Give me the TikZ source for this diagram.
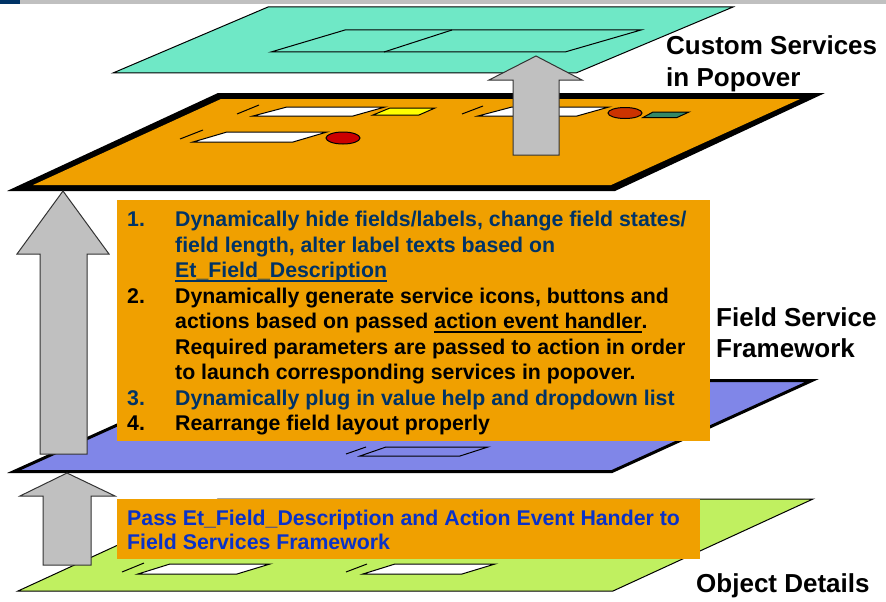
\documentclass[tikz,border=0pt]{standalone}
\usepackage{fontspec}
\setmainfont{Liberation Sans}
\definecolor{barg}{RGB}{192,192,192}
\definecolor{navy}{RGB}{0,51,102}
\definecolor{tealc}{RGB}{111,232,198}
\definecolor{orangec}{RGB}{240,160,0}
\definecolor{bluec}{RGB}{128,134,232}
\definecolor{greenc}{RGB}{192,240,96}
\definecolor{arrowg}{RGB}{192,192,192}
\definecolor{redc}{RGB}{204,0,0}
\definecolor{redoc}{RGB}{204,51,0}
\definecolor{smallg}{RGB}{51,136,102}
\definecolor{yelc}{RGB}{255,255,0}
\definecolor{tblue}{RGB}{0,51,102}
\definecolor{pblue}{RGB}{10,50,200}
\newcommand\myul[1]{\setbox0=\hbox{#1}\rlap{\rule[-4pt]{\wd0}{2pt}}\box0}
\begin{document}
\begin{tikzpicture}[x=1pt,y=-1pt,line join=miter,
  thinline/.style={draw=black,line width=1},
  blockarrow/.style={draw=black!80,line width=1,fill=arrowg},
  textbox/.style={fill=orangec,draw=none,anchor=north west,inner sep=0pt},
  itemtxt/.style={anchor=base west,inner sep=0pt,font=\fontsize{21.3}{25}\selectfont\bfseries},
  labeltxt/.style={anchor=base west,inner sep=0pt,font=\fontsize{26}{31}\selectfont\bfseries},
  whitefield/.style={draw=black,line width=1,fill=white}]
\useasboundingbox (0,0) rectangle (886,602);
% top bar
\fill[barg] (0,0) rectangle (886,4.5);
\fill[navy] (0,0) rectangle (20,4.5);

% teal plane (Custom Services in Popover)
\draw[thinline,fill=tealc] (268,7) -- (733,7) -- (576,73) -- (113,73) -- cycle;
\draw[thinline] (345,30) -- (641,30) -- (565,52) -- (271,52) -- cycle;
\draw[thinline] (452,30) -- (384,52);

% orange plane
\fill[black] (218,93) -- (825,93) -- (615,191) -- (7,191) -- cycle;
\fill[orangec] (221,99) -- (800,99) -- (611,185) -- (33,185) -- cycle;
\draw[thinline] (237,114) -- (259,105);
\draw[whitefield] (287,107) -- (385,107) -- (353,116) -- (253,116) -- cycle;
\draw[thinline,fill=yelc] (390,108) -- (435,108) -- (419,115) -- (373,115) -- cycle;
\draw[thinline] (462,114) -- (483,106);
\draw[whitefield] (512,107) -- (609,107) -- (577,116) -- (478,116) -- cycle;
\draw[thinline] (180,139) -- (203,130);
\draw[whitefield] (227,132) -- (327,132) -- (293,142) -- (193,142) -- cycle;
\draw[thinline,fill=redc] (343,138) ellipse [x radius=17,y radius=6];
\draw[thinline,fill=redoc] (625,113) ellipse [x radius=17,y radius=5.5];
\draw[thinline,fill=smallg] (653,112) -- (689,112) -- (677,117.5) -- (643,117.5) -- cycle;

% arrow up to popover
\draw[blockarrow] (513,155) -- (513,80) -- (489,80) -- (536,56) -- (582,80) -- (559,80) -- (559,155) -- cycle;

% green plane (Object Details)
\draw[thinline,fill=greenc] (218,499) -- (813,499) -- (613,591) -- (18,591) -- cycle;
\draw[thinline] (122,572) -- (144,563);
\draw[whitefield] (170,564) -- (270,564) -- (237,574) -- (138,574) -- cycle;
\draw[thinline] (346,572) -- (367,564);
\draw[whitefield] (395,564) -- (495,564) -- (462,574) -- (363,574) -- cycle;

% blue plane (Field Service Framework)
\draw[line width=3,draw=black,fill=bluec] (216,380.5) -- (812,380.5) -- (612,471.5) -- (14,471.5) -- cycle;
\draw[thinline] (346,454) -- (366,447);
\draw[thinline,fill=bluec] (386,447) -- (488,447) -- (460,456) -- (360,456) -- cycle;

% arrows
\draw[blockarrow] (43,565) -- (43,496) -- (20,496) -- (67,473) -- (115,496) -- (91,496) -- (91,565) -- cycle;
\draw[blockarrow] (40,454) -- (40,254) -- (17,254) -- (63,191) -- (109,254) -- (87,254) -- (87,454) -- cycle;

% text box 1
\node[textbox,minimum width=593,minimum height=241] (box1) at (117,200) {};
\node[itemtxt,text=tblue] (n1) at (127,226.7) {1.};
\node[itemtxt,text=tblue] (l1) at (175,226.7) {Dynamically hide fields/labels, change field states/};
\node[itemtxt,text=tblue] (l2) at (175,252.2) {field length, alter label texts based on};
\node[itemtxt,text=tblue] (l3) at (175,277.7) {\myul{Et\_Field\_Description}};
\node[itemtxt,text=black] (n2) at (127,303.2) {2.};
\node[itemtxt,text=black] (l4) at (175,303.2) {Dynamically generate service icons, buttons and};
\node[itemtxt,text=black] (l5) at (175,328.7) {actions based on passed \myul{action event handler}.};
\node[itemtxt,text=black] (l6) at (175,354.2) {Required parameters are passed to action in order};
\node[itemtxt,text=black] (l7) at (175,379.7) {to launch corresponding services in popover.};
\node[itemtxt,text=tblue] (n3) at (127,405.2) {3.};
\node[itemtxt,text=tblue] (l8) at (175,405.2) {Dynamically plug in value help and dropdown list};
\node[itemtxt,text=black] (n4) at (127,430.7) {4.};
\node[itemtxt,text=black] (l9) at (175,430.7) {Rearrange field layout properly};

% text box 2
\node[textbox,minimum width=583,minimum height=60] (box2) at (117,499) {};
\node[itemtxt,text=pblue] (p1) at (127,525) {Pass Et\_Field\_Description and Action Event Hander to};
\node[itemtxt,text=pblue] (p2) at (127,549) {Field Services Framework};

% labels
\node[labeltxt] (c1) at (666,55) {Custom Services};
\node[labeltxt] (c2) at (666,86) {in Popover};
\node[labeltxt] (f1) at (716,326) {Field Service};
\node[labeltxt] (f2) at (716,357) {Framework};
\node[labeltxt] (o1) at (696,592) {Object Details};
\end{tikzpicture}
\end{document}
